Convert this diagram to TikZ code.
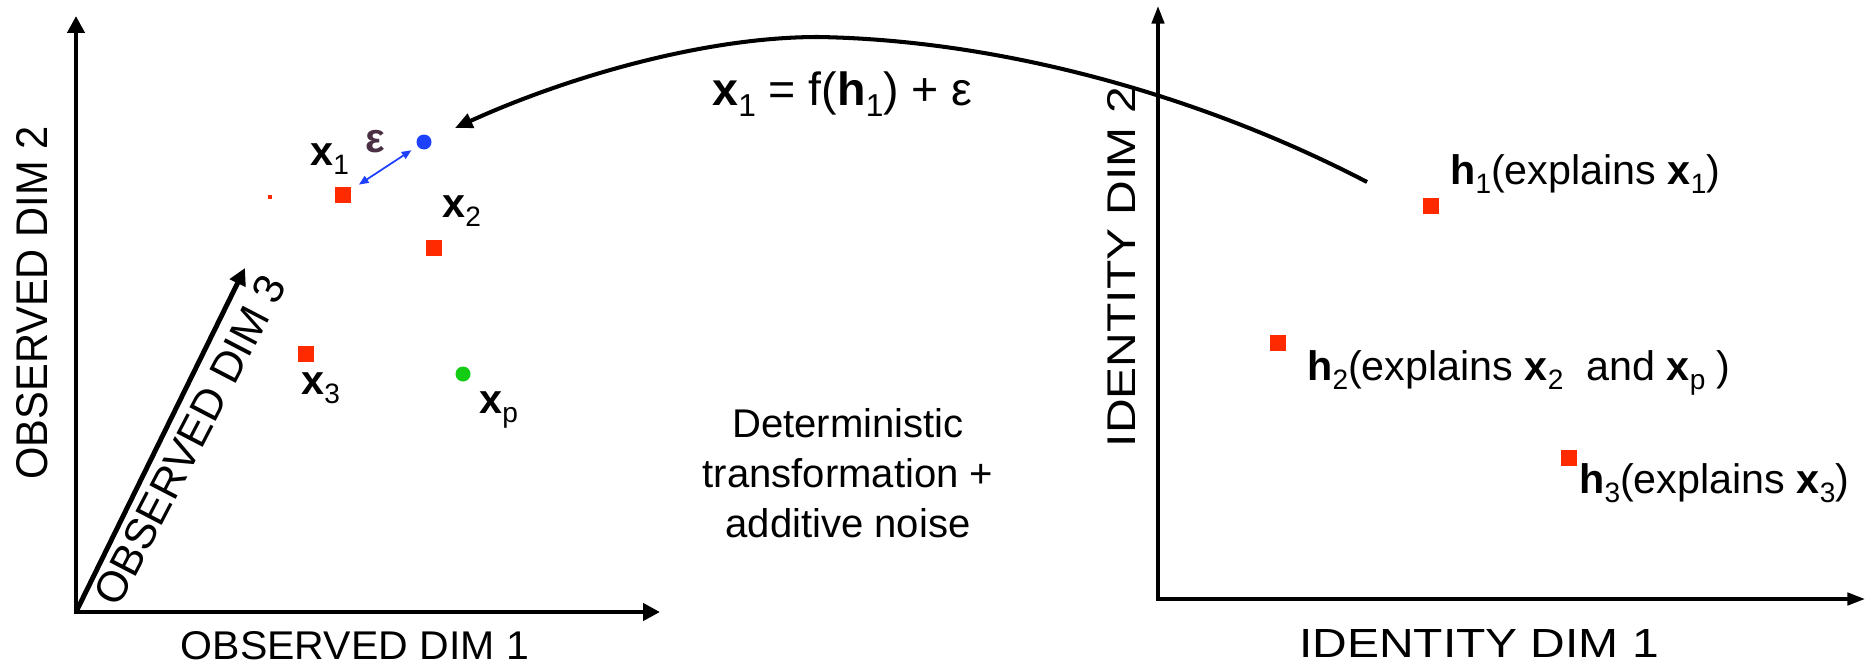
\documentclass[tikz,border=0pt]{standalone}
\usepackage{fontspec}
\setmainfont{Liberation Sans}
\usepackage{graphicx}
\usetikzlibrary{arrows.meta}
\newlength\pxu \setlength\pxu{0.02cm}
\newcommand\capl[3]{\resizebox{#1\pxu}{#2\pxu}{#3}}
\newcommand\sbs[1]{\raisebox{-0.24em}{\scalebox{0.68}{#1}}}
\definecolor{sqred}{HTML}{FF2A00}
\definecolor{dotblue}{HTML}{1E40FF}
\definecolor{dotgreen}{HTML}{14CC14}
\definecolor{epscol}{HTML}{4A3042}
\tikzset{
  sq/.style={fill=sqred, draw=none, minimum size=16\pxu, inner sep=0pt, shape=rectangle},
  dot/.style={circle, draw=none, minimum size=15\pxu, inner sep=0pt},
  ptlab/.style={anchor=base west, inner sep=0pt, font=\fontsize{23.5pt}{28pt}\selectfont},
  hlab/.style={anchor=base west, inner sep=0pt, font=\fontsize{23.5pt}{28pt}\selectfont},
  axlab/.style={inner sep=0pt, font=\fontsize{20pt}{24pt}\selectfont},
  laxis/.style={line width=2.8pt, {Triangle[length=9.6pt,width=9.6pt]}-{Triangle[length=9.6pt,width=9.6pt]}},
  diag/.style={line width=2.8pt, -{Triangle[length=9.6pt,width=9.6pt]}},
  raxis/.style={line width=2pt, {Triangle[length=10pt,width=7pt]}-{Triangle[length=10pt,width=7pt]}},
  curvearrow/.style={line width=2.3pt, -{Triangle[length=10pt,width=8.5pt]}},
  epsarrow/.style={dotblue, line width=1pt, {Triangle[length=5.5pt,width=4.5pt]}-{Triangle[length=5.5pt,width=4.5pt]}},
}
\begin{document}
\begin{tikzpicture}[x=0.02cm, y=-0.02cm]
\useasboundingbox (0,0) rectangle (1872,666);

% left axes
\coordinate (O1) at (76,612);
\coordinate (Y1) at (76,16);
\coordinate (X1) at (660,612);
\coordinate (Z1) at (245,268);
\draw[laxis, line join=miter] (Y1) -- (O1) -- (X1);
\draw[diag] (O1) -- (Z1);

% right axes
\coordinate (O2) at (1158,599);
\coordinate (Y2) at (1158,6);
\coordinate (X2) at (1865,599);
\draw[raxis, line join=miter] (Y2) -- (O2) -- (X2);

% axis labels
\node[axlab, anchor=base] (d1) at (355,659) {\capl{348}{28}{OBSERVED DIM 1}};
\node[axlab, anchor=base, rotate=90] (d2) at (47,303) {\capl{353}{31}{OBSERVED DIM 2}};
\node[axlab, anchor=center, rotate=62.5] (d3) at (190,440) {\capl{365}{30}{OBSERVED DIM 3}};
\node[axlab, anchor=base] (i1) at (1479,657) {\capl{360}{28}{IDENTITY DIM 1}};
\node[axlab, anchor=base, rotate=90] (i2) at (1135,267) {\capl{360}{28}{IDENTITY DIM 2}};

% observed points
\node[fill=sqred, minimum size=4\pxu, inner sep=0pt] (tiny) at (270,197) {};
\node[sq] (s1) at (343,195) {};
\node[sq] (s2) at (434,248) {};
\node[sq] (s3) at (306,354) {};
\node[dot, fill=dotblue] (blue) at (424,142) {};
\node[dot, fill=dotgreen] (green) at (463,374) {};

\node[ptlab] (lx1) at (310,165) {\textbf{x}\sbs{1}};
\node[ptlab] (lx2) at (442,217) {\textbf{x}\sbs{2}};
\node[ptlab] (lx3) at (301,394) {\textbf{x}\sbs{3}};
\node[ptlab] (lxp) at (479,413) {\textbf{x}\sbs{p}};
\node[ptlab, text=epscol] (eps) at (365,152) {\textbf{ε}};

\draw[epsarrow, shorten <=19\pxu, shorten >=15\pxu] (s1.center) -- (blue.center);

% identity points
\node[sq] (h1) at (1431,206) {};
\node[sq] (h2) at (1278,343) {};
\node[sq] (h3) at (1569,458) {};
\node[hlab] (lh1) at (1450,184) {\textbf{h}\sbs{1}(explains \textbf{x}\sbs{1})};
\node[hlab] (lh2) at (1307,380) {\textbf{h}\sbs{2}(explains \textbf{x}\sbs{2}\ \ and \textbf{x}\sbs{p} )};
\node[hlab] (lh3) at (1579,493) {\textbf{h}\sbs{3}(explains \textbf{x}\sbs{3})};

% curve
\coordinate (cs) at (1367,182);
\coordinate (ce) at (455,128);
\draw[curvearrow] (cs) .. controls (1200,95) and (1000,40) .. (818,37) .. controls (700,37) and (560,80) .. (ce);

\node[anchor=base west, inner sep=0pt, font=\fontsize{26.5pt}{30pt}\selectfont] (formula) at (712,105) {\textbf{x}\sbs{1} = f(\textbf{h}\sbs{1}) + ε};

\node[align=center, inner sep=0pt, font=\fontsize{22.8pt}{28.3pt}\selectfont] (mid) at (848,473) {Deterministic\\transformation +\\additive noise};
\end{tikzpicture}
\end{document}
